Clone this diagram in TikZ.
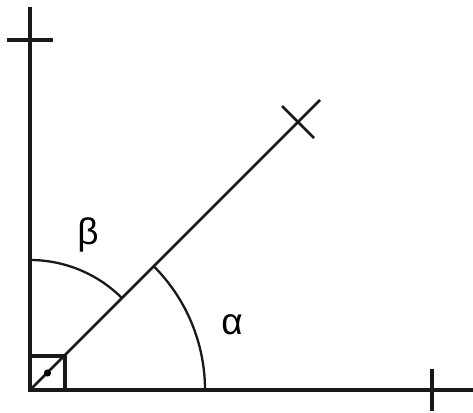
\documentclass[tikz,border=0pt]{standalone}
\usepackage{fontspec}
\setmainfont{Liberation Sans}
\begin{document}
\begin{tikzpicture}[x=1pt,y=1pt,
  axis/.style={line width=3.4pt,black!90},
  ray/.style={line width=2.7pt,black!90},
  arcline/.style={line width=2.3pt,black!90},
  lbl/.style={font=\fontsize{37}{40}\selectfont,inner sep=0pt}]
\useasboundingbox (0,0) rectangle (473,412);
\coordinate (O) at (30,22);
\coordinate (Ytop) at (30,405);
\coordinate (Xend) at (473,22);
\coordinate (Ytl) at (7,372);
\coordinate (Ytr) at (53,372);
\coordinate (Xtb) at (432,1);
\coordinate (Xtt) at (432,43);
\coordinate (Rend) at (320,312);
\coordinate (Ca) at (282,306);
\coordinate (Cb) at (314,274);
% axes
\draw[axis] (O) -- (Ytop);
\draw[axis] (O) -- (Xend);
\draw[axis] (Ytl) -- (Ytr);
\draw[axis] (Xtb) -- (Xtt);
% ray and its tick
\draw[ray] (O) -- (Rend);
\draw[ray] (Ca) -- (Cb);
% right angle mark
\draw[axis] (O) rectangle (65,56);
\fill[black] (47.5,39) circle (3.6pt);
% arcs
\draw[arcline] ([xshift=175pt]O) arc (0:45:175);
\draw[arcline] ([yshift=130pt]O) arc (90:45:130);
% labels
\node[lbl] (alpha) at (232,87) {α};
\node[lbl] (beta) at (88,177) {β};
\end{tikzpicture}
\end{document}
